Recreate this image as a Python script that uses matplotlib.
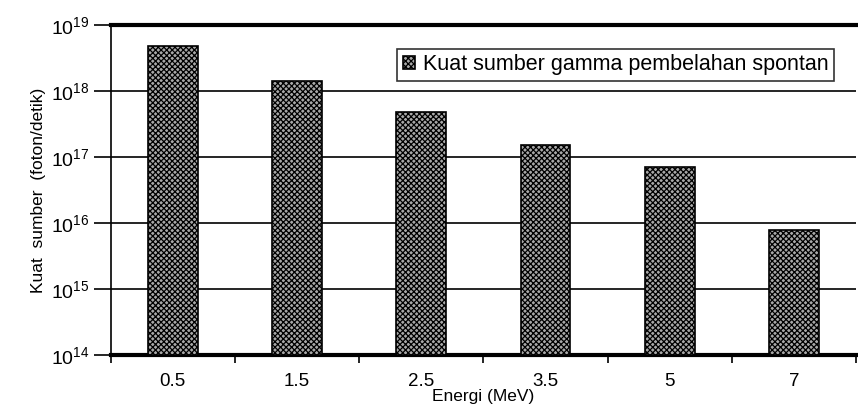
import numpy as np
import matplotlib
matplotlib.use("Agg")
import matplotlib.pyplot as plt
from matplotlib.ticker import FixedLocator, LogLocator, NullLocator

plt.rcParams['font.family'] = ['Liberation Sans', 'DejaVu Sans']
plt.rcParams['mathtext.fontset'] = 'custom'
plt.rcParams['mathtext.rm'] = 'Liberation Sans'
plt.rcParams['mathtext.it'] = 'Liberation Sans'
plt.rcParams['hatch.linewidth'] = 0.9

energies = ["0.5", "1.5", "2.5", "3.5", "5", "7"]
strength = [4.8e18, 1.4e18, 4.8e17, 1.5e17, 7.0e16, 7.8e15]

fig = plt.figure(figsize=(8.58, 4.17), dpi=100)
ax = fig.add_axes([0.129, 0.149, 0.869, 0.791])

x = np.arange(len(energies))
ax.bar(x, strength, width=0.4, bottom=1e14, facecolor='#a8a8a8', edgecolor='black',
       hatch='xxxxxx', linewidth=1.2, label='Kuat sumber gamma pembelahan spontan', zorder=3)

ax.set_yscale('log')
ax.set_ylim(1e14, 1e19)
ax.set_xlim(-0.5, len(energies) - 0.5)
ax.yaxis.set_major_locator(LogLocator(base=10, numticks=10))
ax.yaxis.set_minor_locator(NullLocator())
ax.grid(axis='y', color='black', linewidth=1.2, zorder=1)

ax.set_xticks(x)
ax.set_xticklabels(energies)
ax.xaxis.set_minor_locator(FixedLocator(np.arange(-0.5, len(energies), 1.0)))
ax.tick_params(axis='x', which='major', length=0, pad=13, labelsize=13.5)
ax.tick_params(axis='x', which='minor', length=6, width=1.2, direction='out')
ax.tick_params(axis='y', length=12, width=1.2, direction='out', labelsize=14, pad=3)

for s in ['top', 'bottom']:
    ax.spines[s].set_linewidth(3)
ax.spines['left'].set_linewidth(1.2)
ax.spines['right'].set_visible(False)

ax.set_xlabel('Energi (MeV)', fontsize=12.5, labelpad=-1)
ax.set_ylabel('Kuat  sumber  (foton/detik)', fontsize=12.5, labelpad=4)

leg = ax.legend(loc='upper right', fontsize=15.5, frameon=True, fancybox=False,
                handlelength=0.55, handleheight=0.55, handletextpad=0.4,
                borderpad=0.25, bbox_to_anchor=(0.985, 0.96))
leg.get_frame().set_edgecolor('black')
leg.get_frame().set_linewidth(1.2)
leg.set_zorder(5)

fig.savefig('out.png', dpi=100)
